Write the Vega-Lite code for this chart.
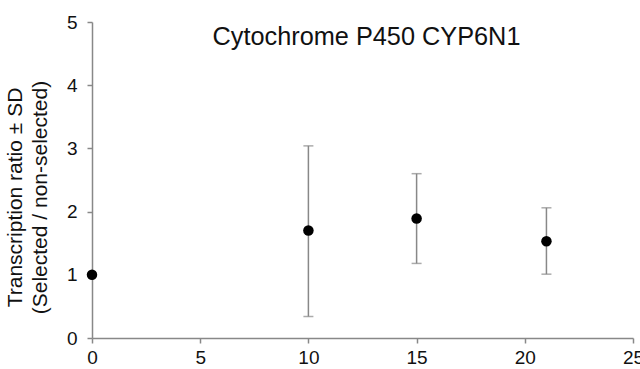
{
  "$schema": "https://vega.github.io/schema/vega-lite/v6.json",
  "autosize": {"type": "none"},
  "width": 541,
  "height": 316,
  "padding": {"left": 92, "top": 22, "right": 7, "bottom": 31},
  "background": "white",
  "title": {
    "text": "Cytochrome P450 CYP6N1",
    "font": "Liberation Sans",
    "fontSize": 25.3,
    "fontWeight": "normal",
    "color": "#111111",
    "anchor": "middle",
    "offset": -37,
    "dx": 4
  },
  "data": {
    "values": [
      {"day": 0, "ratio": 1.0, "lo": 1.0, "hi": 1.0},
      {"day": 10, "ratio": 1.7, "lo": 0.34, "hi": 3.04},
      {"day": 15, "ratio": 1.89, "lo": 1.18, "hi": 2.6},
      {"day": 21, "ratio": 1.53, "lo": 1.01, "hi": 2.06}
    ]
  },
  "config": {
    "view": {"stroke": null},
    "axis": {
      "grid": false,
      "domainColor": "#888888",
      "domainWidth": 1.5,
      "tickColor": "#888888",
      "tickWidth": 1.5,
      "tickSize": 5,
      "labelFont": "Liberation Sans",
      "labelFontSize": 19,
      "labelColor": "#111111",
      "titleFont": "Liberation Sans",
      "titleFontSize": 21,
      "titleFontWeight": "normal",
      "titleColor": "#111111"
    }
  },
  "layer": [
    {
      "transform": [{"filter": "datum.hi > datum.lo"}],
      "mark": {"type": "rule", "color": "#888888", "strokeWidth": 1.5},
      "encoding": {
        "x": {"field": "day", "type": "quantitative"},
        "y": {"field": "lo", "type": "quantitative"},
        "y2": {"field": "hi"}
      }
    },
    {
      "transform": [{"filter": "datum.hi > datum.lo"}],
      "mark": {"type": "tick", "orient": "horizontal", "color": "#888888", "size": 10, "thickness": 1.5},
      "encoding": {
        "x": {"field": "day", "type": "quantitative"},
        "y": {"field": "lo", "type": "quantitative"}
      }
    },
    {
      "transform": [{"filter": "datum.hi > datum.lo"}],
      "mark": {"type": "tick", "orient": "horizontal", "color": "#888888", "size": 10, "thickness": 1.5},
      "encoding": {
        "x": {"field": "day", "type": "quantitative"},
        "y": {"field": "hi", "type": "quantitative"}
      }
    },
    {
      "mark": {"type": "point", "filled": true, "color": "black", "opacity": 1, "size": 110},
      "encoding": {
        "x": {
          "field": "day",
          "type": "quantitative",
          "scale": {"domain": [0, 25], "nice": false, "zero": false},
          "axis": {"values": [0, 5, 10, 15, 20, 25], "format": "d", "title": null, "labelPadding": 5, "labelFlush": false}
        },
        "y": {
          "field": "ratio",
          "type": "quantitative",
          "scale": {"domain": [0, 5], "nice": false},
          "axis": {
            "values": [0, 1, 2, 3, 4, 5],
            "format": "d",
            "title": ["Transcription ratio ± SD", "(Selected / non-selected)"],
            "titleLineHeight": 25,
            "titlePadding": 16,
            "titleY": 175,
            "labelPadding": 10,
            "labelFlush": false
          }
        }
      }
    }
  ]
}
